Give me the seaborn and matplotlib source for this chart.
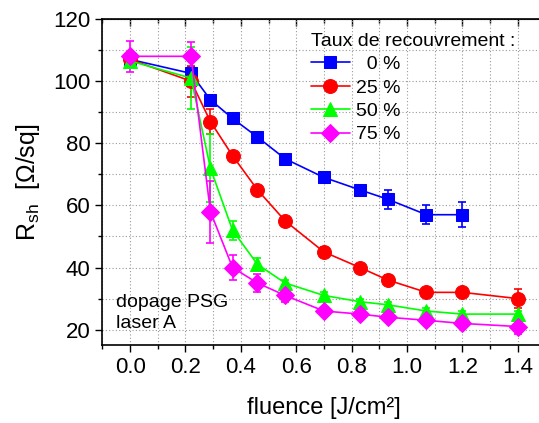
import numpy as np
import pandas as pd
import matplotlib
matplotlib.use("Agg")
import matplotlib.pyplot as plt
from matplotlib.ticker import MultipleLocator
import seaborn as sns

# fluence [J/cm²]
fluence = [0.0, 0.22, 0.29, 0.37, 0.46, 0.56, 0.70, 0.83, 0.93, 1.07, 1.20, 1.40]

# Rsh [Ohm/sq] par taux de recouvrement
r0 = [107, 102.5, 94, 88, 82, 75, 69, 65, 62, 57, 57]
r25 = [107, 100, 87, 76, 65, 55, 45, 40, 36, 32, 32, 30]
r50 = [106.5, 101, 72, 52, 41, 35, 31, 29, 28, 26, 25, 25]
r75 = [108, 108, 58, 40, 35, 31, 26, 25, 24, 23, 22, 21]

e0 = [1, 2, 1, 1, 1, 1, 1.5, 1, 3, 3, 4]
e25 = [1, 5, 4, 1, 1, 1, 1.5, 1, 1.5, 1, 1, 3]
e50 = [1, 10, 11, 3, 2, 1, 1, 1, 1, 1, 1, 1]
e75 = [5, 4.5, 10, 4, 3, 2, 1, 1, 1, 1, 1, 2.5]

labels = ["  0 %", "25 %", "50 %", "75 %"]
couleurs = ["#0000ff", "#ff0000", "#00ff00", "#ff00ff"]
marqueurs = ["s", "o", "^", "D"]
tailles = [8.5, 10, 10.5, 9.5]

series = [r0, r25, r50, r75]
erreurs = [e0, e25, e50, e75]

frames = []
for lab, ys in zip(labels, series):
    frames.append(pd.DataFrame({"fluence": fluence[:len(ys)], "Rsh": ys, "taux": lab}))
df = pd.concat(frames, ignore_index=True)

sns.set_style("ticks")
plt.rcParams["font.family"] = ["Liberation Sans", "DejaVu Sans"]
plt.rcParams["mathtext.default"] = "regular"
plt.rcParams["text.color"] = "black"
plt.rcParams["axes.labelcolor"] = "black"
plt.rcParams["xtick.color"] = "black"
plt.rcParams["ytick.color"] = "black"

fig = plt.figure(figsize=(5.39, 4.23), dpi=100)
ax = fig.add_axes([0.19, 0.184, 0.822, 0.771])

# barres d'erreur
for ys, es, c in zip(series, erreurs, couleurs):
    ax.errorbar(fluence[:len(ys)], ys, yerr=es, fmt="none", ecolor=c,
                elinewidth=1.2, capsize=3, capthick=1.2, zorder=2)

for lab, c, m, s in zip(labels, couleurs, marqueurs, tailles):
    sns.lineplot(data=df[df["taux"] == lab], x="fluence", y="Rsh", ax=ax,
                 color=c, marker=m, markersize=s, markeredgecolor=c,
                 linewidth=1.2, label=lab, zorder=3)

ax.set_xlim(-0.1, 1.5)
ax.set_ylim(15, 120)
ax.xaxis.set_major_locator(MultipleLocator(0.2))
ax.xaxis.set_minor_locator(MultipleLocator(0.1))
ax.yaxis.set_major_locator(MultipleLocator(20))
ax.yaxis.set_minor_locator(MultipleLocator(10))
ax.xaxis.set_major_formatter(plt.FuncFormatter(lambda v, p: f"{v:.1f}"))

ax.grid(True, which="both", linestyle=(0, (1, 2)), color="#999999", linewidth=0.8)
ax.set_axisbelow(True)

ax.tick_params(which="major", direction="out", length=5, width=1, labelsize=16,
               bottom=True, left=True, top=False)
ax.tick_params(which="minor", direction="out", length=3, width=1,
               bottom=True, left=True, top=False)
sec = ax.secondary_xaxis("top")
sec.xaxis.set_major_locator(MultipleLocator(0.2))
sec.xaxis.set_minor_locator(MultipleLocator(0.1))
sec.tick_params(which="major", direction="in", length=5, width=1, labeltop=False)
sec.tick_params(which="minor", direction="in", length=3, width=1)
for sp in ax.spines.values():
    sp.set_linewidth(1.2)
    sp.set_color("black")

ax.set_xlabel("fluence [J/cm²]", fontsize=17, labelpad=14)
ax.set_ylabel("R$_{sh}$  [Ω/sq]", fontsize=18, labelpad=8)

ax.text(0.03, 0.10, "dopage PSG\nlaser A", transform=ax.transAxes,
        fontsize=14, va="center", ha="left", linespacing=1.3)

leg = ax.legend(loc="upper left", bbox_to_anchor=(0.44, 1.0), frameon=False,
                title="Taux de recouvrement :", fontsize=14, title_fontsize=14,
                handlelength=2.0, handletextpad=0.3, labelspacing=0.3,
                alignment="left", borderaxespad=0.3)

fig.savefig("out.png", dpi=100)
